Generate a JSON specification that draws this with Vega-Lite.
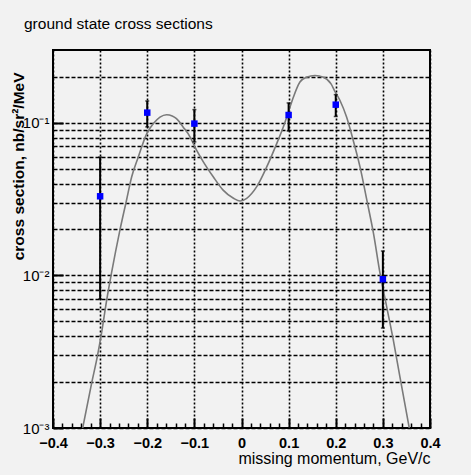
{
  "$schema": "https://vega.github.io/schema/vega-lite/v6.json",
  "autosize": {"type": "none"},
  "width": 377,
  "height": 378,
  "padding": {"left": 53, "top": 50, "right": 41, "bottom": 47},
  "background": "#f2f2f2",
  "title": {
    "text": "ground state cross sections",
    "anchor": "start",
    "frame": "group",
    "dx": -29,
    "offset": 18,
    "font": "Liberation Sans, Arial",
    "fontSize": 15.5,
    "fontWeight": "normal",
    "color": "#000"
  },
  "config": {
    "view": {"stroke": "#000", "strokeWidth": 2, "fill": "#f2f2f2"},
    "axis": {
      "labelFont": "Liberation Sans, Arial",
      "titleFont": "Liberation Sans, Arial",
      "labelColor": "#000",
      "titleColor": "#000",
      "tickColor": "#000",
      "domainColor": "#000",
      "gridColor": "#000",
      "gridOpacity": 1
    }
  },
  "datasets": {
    "curve": [
      {"p": -0.337, "s": 0.001},
      {"p": -0.318, "s": 0.00197},
      {"p": -0.306, "s": 0.00294},
      {"p": -0.297, "s": 0.00419},
      {"p": -0.286, "s": 0.00692},
      {"p": -0.276, "s": 0.0103},
      {"p": -0.258, "s": 0.0198},
      {"p": -0.244, "s": 0.0311},
      {"p": -0.233, "s": 0.0443},
      {"p": -0.219, "s": 0.0597},
      {"p": -0.201, "s": 0.085},
      {"p": -0.187, "s": 0.0988},
      {"p": -0.173, "s": 0.109},
      {"p": -0.159, "s": 0.113},
      {"p": -0.147, "s": 0.111},
      {"p": -0.138, "s": 0.1065},
      {"p": -0.124, "s": 0.094},
      {"p": -0.109, "s": 0.0807},
      {"p": -0.099, "s": 0.0695},
      {"p": -0.081, "s": 0.0555},
      {"p": -0.06, "s": 0.0443},
      {"p": -0.039, "s": 0.0362},
      {"p": -0.017, "s": 0.032},
      {"p": -0.003, "s": 0.0307},
      {"p": 0.011, "s": 0.032},
      {"p": 0.032, "s": 0.038},
      {"p": 0.0535, "s": 0.0514},
      {"p": 0.0747, "s": 0.0731},
      {"p": 0.0887, "s": 0.094},
      {"p": 0.103, "s": 0.127},
      {"p": 0.11, "s": 0.147},
      {"p": 0.124, "s": 0.185},
      {"p": 0.138, "s": 0.199},
      {"p": 0.156, "s": 0.204},
      {"p": 0.174, "s": 0.199},
      {"p": 0.19, "s": 0.18},
      {"p": 0.199, "s": 0.159},
      {"p": 0.209, "s": 0.14},
      {"p": 0.223, "s": 0.109},
      {"p": 0.237, "s": 0.0769},
      {"p": 0.2515, "s": 0.0514},
      {"p": 0.266, "s": 0.0311},
      {"p": 0.28, "s": 0.0189},
      {"p": 0.294, "s": 0.0103},
      {"p": 0.308, "s": 0.00625},
      {"p": 0.322, "s": 0.00379},
      {"p": 0.336, "s": 0.00218},
      {"p": 0.354, "s": 0.00108},
      {"p": 0.356, "s": 0.001}
    ],
    "points": [
      {"p": -0.3, "s": 0.033, "lo": 0.007, "hi": 0.0596},
      {"p": -0.2, "s": 0.1166, "lo": 0.094, "hi": 0.139},
      {"p": -0.1, "s": 0.0988, "lo": 0.075, "hi": 0.122},
      {"p": 0.1, "s": 0.1125, "lo": 0.0884, "hi": 0.135},
      {"p": 0.2, "s": 0.1315, "lo": 0.11, "hi": 0.153},
      {"p": 0.3, "s": 0.00944, "lo": 0.00452, "hi": 0.01445}
    ]
  },
  "resolve": {"axis": {"x": "independent", "y": "independent"}},
  "layer": [
    {
      "data": {"name": "curve"},
      "mark": {"type": "line", "color": "#7a7a7a", "strokeWidth": 1.6, "interpolate": "monotone", "clip": true},
      "encoding": {
        "x": {
          "field": "p", "type": "quantitative",
          "scale": {"domain": [-0.4, 0.4], "nice": false, "zero": false},
          "axis": {
            "orient": "bottom",
            "values": [-0.4, -0.3, -0.2, -0.1, 0, 0.1, 0.2, 0.3, 0.4],
            "title": "missing momentum, GeV/c",
            "titleAnchor": "end",
            "titleAlign": "right",
            "titleFontSize": 16,
            "titleFontWeight": "normal",
            "titlePadding": 1,
            "labelFontSize": 14.5,
            "labelFontWeight": "bold",
            "labelExpr": "datum.value == 0 ? '0' : format(datum.value, '.1f')",
            "labelPadding": 18,
            "labelFlush": false,
            "tickSize": -10,
            "tickWidth": 2,
            "domain": false,
            "grid": true,
            "gridDash": [2, 2],
            "gridWidth": 1.6
          }
        },
        "y": {
          "field": "s", "type": "quantitative",
          "scale": {"type": "log", "domain": [0.001, 0.3], "nice": false},
          "axis": {
            "orient": "left",
            "values": [0.001, 0.002, 0.003, 0.004, 0.005, 0.006, 0.007, 0.008, 0.009, 0.01, 0.02, 0.03, 0.04, 0.05, 0.06, 0.07, 0.08, 0.09, 0.1, 0.2],
            "title": "cross section, nb/sr²/MeV",
            "titleFontSize": 15.5,
            "titleFontWeight": "bold",
            "titleAngle": 270,
            "titleAlign": "right",
            "titleBaseline": "bottom",
            "titleX": -27,
            "titleY": 22,
            "labelFontSize": 15,
            "labelFontWeight": "normal",
            "labelExpr": "datum.value == 0.1 ? '10⁻¹' : datum.value == 0.01 ? '10⁻²' : datum.value == 0.001 ? '10⁻³' : ''",
            "labelPadding": 4,
            "labelFlush": false,
            "ticks": false,
            "domain": false,
            "grid": true,
            "gridDash": [4, 2],
            "gridWidth": 1.6
          }
        }
      }
    },
    {
      "data": {"name": "points"},
      "mark": {"type": "rule", "color": "#000", "strokeWidth": 2},
      "encoding": {
        "x": {
          "field": "p", "type": "quantitative",
          "axis": {
            "orient": "bottom",
            "values": [-0.38, -0.36, -0.34, -0.32, -0.28, -0.26, -0.24, -0.22, -0.18, -0.16, -0.14, -0.12, -0.08, -0.06, -0.04, -0.02, 0.02, 0.04, 0.06, 0.08, 0.12, 0.14, 0.16, 0.18, 0.22, 0.24, 0.26, 0.28, 0.32, 0.34, 0.36, 0.38],
            "title": null,
            "labels": false,
            "domain": false,
            "grid": false,
            "tickSize": -5,
            "tickWidth": 1.5
          }
        },
        "y": {
          "field": "lo", "type": "quantitative",
          "axis": {
            "orient": "left",
            "values": [0.001, 0.01, 0.1],
            "title": null,
            "labels": false,
            "domain": false,
            "grid": false,
            "tickSize": -10,
            "tickWidth": 2
          }
        },
        "y2": {"field": "hi"}
      }
    },
    {
      "data": {"name": "points"},
      "mark": {"type": "tick", "orient": "horizontal", "color": "#000", "size": 4, "thickness": 1.5},
      "encoding": {
        "x": {"field": "p", "type": "quantitative", "axis": null},
        "y": {"field": "lo", "type": "quantitative", "axis": null}
      }
    },
    {
      "data": {"name": "points"},
      "mark": {"type": "tick", "orient": "horizontal", "color": "#000", "size": 4, "thickness": 1.5},
      "encoding": {
        "x": {"field": "p", "type": "quantitative", "axis": null},
        "y": {"field": "hi", "type": "quantitative", "axis": null}
      }
    },
    {
      "data": {"name": "points"},
      "mark": {"type": "point", "shape": "square", "filled": true, "color": "#0000ff", "size": 42, "opacity": 1},
      "encoding": {
        "x": {"field": "p", "type": "quantitative", "axis": null},
        "y": {"field": "s", "type": "quantitative", "axis": null}
      }
    }
  ]
}
